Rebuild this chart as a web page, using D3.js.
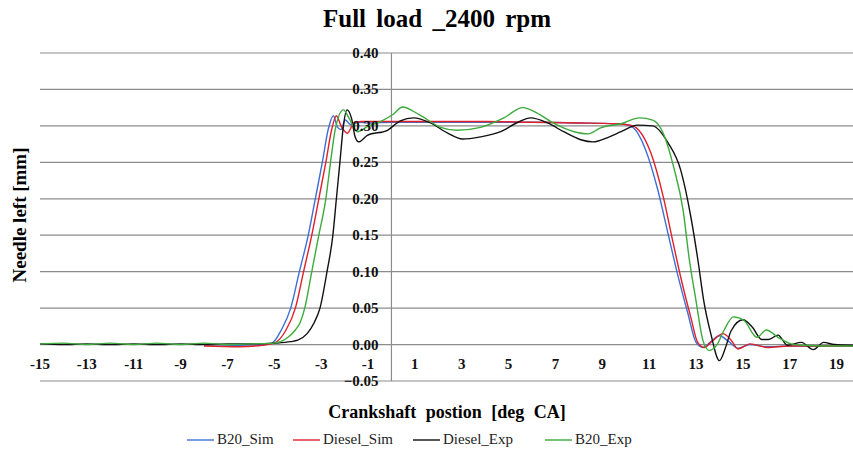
<!DOCTYPE html>
<html>
<head>
<meta charset="utf-8">
<script src="https://cdn.jsdelivr.net/npm/d3@7"></script>
<style>
  body { margin: 0; background: #fff; }
  svg, text { font-family: "Liberation Serif", "Times New Roman", "DejaVu Serif", serif; }
  .grid line { stroke: #8c8c8c; stroke-width: 1.2; }
  .tick-lbl { font-weight: bold; font-size: 15px; fill: #111; }
</style>
</head>
<body>
<svg id="chart" width="853" height="455" font-family="Liberation Serif, serif"></svg>
<script>
// crank angle [deg CA], needle lift [mm]
var b20Sim = [[-8,0],[-6.5,-0.001],[-5.5,0],[-5.1,0.002],[-4.7,0.02],[-4.3,0.05],[-3.93,0.10],[-3.55,0.15],[-3.25,0.20],[-2.95,0.25],[-2.7,0.295],[-2.48,0.314],[-2.3,0.298],[-2.15,0.295],[-1.97,0.308],[-1.75,0.302],[-1.4,0.305],[-1,0.304],[0,0.305],[2,0.305],[4,0.305],[6,0.305],[8,0.304],[9.5,0.303],[10.0,0.302],[10.34,0.297],[10.85,0.267],[11.37,0.212],[11.8,0.153],[12.2,0.098],[12.65,0.043],[13.0,0.003],[13.3,-0.004],[13.6,0.003],[14.0,0.012],[14.4,0.004],[14.8,-0.005],[15.3,0.0],[16.0,-0.003],[17,-0.002],[18,-0.002],[19.7,-0.002]];

var dieselSim = [[-8,-0.002],[-6.5,-0.003],[-5.5,-0.001],[-5.0,0.002],[-4.5,0.02],[-4.1,0.05],[-3.75,0.10],[-3.4,0.15],[-3.1,0.20],[-2.8,0.25],[-2.55,0.295],[-2.35,0.314],[-2.15,0.3],[-1.88,0.29],[-1.6,0.304],[-1.3,0.306],[-1,0.306],[0,0.306],[2,0.306],[4,0.306],[6,0.305],[8,0.304],[9.5,0.303],[10.2,0.301],[10.56,0.294],[11.07,0.263],[11.6,0.203],[12.0,0.143],[12.35,0.092],[12.78,0.037],[13.07,0.003],[13.35,-0.004],[13.7,0.005],[14.15,0.015],[14.5,0.006],[14.8,-0.006],[15.3,0.001],[16.05,-0.004],[17,-0.002],[18,-0.002],[19.7,-0.002]];

var dieselExp = [[-15,0.001],[-14,0],[-13,0.001],[-12,0],[-11,0.001],[-10,0],[-9,0.001],[-8,0],[-7,0.001],[-6,0.001],[-5,0.002],[-4.3,0.004],[-4.0,0.006],[-3.6,0.015],[-3.3,0.03],[-3.05,0.05],[-2.75,0.10],[-2.5,0.15],[-2.35,0.20],[-2.2,0.25],[-2.05,0.30],[-1.9,0.322],[-1.7,0.31],[-1.55,0.285],[-1.4,0.278],[-1.03,0.287],[-0.17,0.294],[0.38,0.307],[0.94,0.311],[1.67,0.304],[2.4,0.29],[3.03,0.282],[3.8,0.285],[4.66,0.292],[5.4,0.305],[5.94,0.311],[6.67,0.304],[7.35,0.292],[8.08,0.281],[8.6,0.278],[9.3,0.285],[9.8,0.292],[10.5,0.301],[11.15,0.30],[11.8,0.277],[12.35,0.239],[12.78,0.175],[13.08,0.116],[13.33,0.06],[13.63,0.015],[14.0,-0.022],[14.25,-0.005],[14.5,0.019],[15.0,0.034],[15.4,0.024],[15.8,0.007],[16.1,0.007],[16.5,0.013],[16.9,-0.001],[17.5,0.003],[18.0,-0.007],[18.45,0.003],[18.9,0],[19.7,-0.001]];

var b20Exp = [[-15,0.001],[-14,0.002],[-13,0.0],[-12,0.002],[-11,0.0],[-10,0.002],[-9,0.0],[-8,0.002],[-7,0.0],[-6,0.001],[-5,0.002],[-4.5,0.008],[-4.1,0.02],[-3.9,0.03],[-3.7,0.05],[-3.4,0.10],[-3.1,0.15],[-2.8,0.20],[-2.6,0.25],[-2.4,0.295],[-2.05,0.322],[-1.8,0.31],[-1.45,0.292],[-1.03,0.299],[-0.47,0.306],[0.08,0.316],[0.47,0.326],[1.2,0.315],[2.1,0.298],[2.8,0.294],[3.8,0.298],[4.8,0.311],[5.6,0.325],[6.2,0.318],[6.9,0.304],[7.8,0.292],[8.4,0.289],[8.9,0.297],[9.8,0.303],[10.6,0.311],[11.15,0.308],[11.6,0.29],[12.05,0.243],[12.45,0.184],[12.7,0.12],[13.0,0.06],[13.3,0.005],[13.55,-0.008],[13.9,0.0],[14.2,0.02],[14.6,0.038],[15.05,0.033],[15.6,0.01],[16.0,0.02],[16.5,0.01],[17.05,0.001],[17.6,-0.001],[18.5,-0.002],[19.7,-0.002]];

var seriesNames = ["B20_Sim", "Diesel_Sim", "Diesel_Exp", "B20_Exp"];
var seriesColors = ["#3d6fd4", "#e0202a", "#111111", "#3caa3c"];
var xTicks = [-15,-13,-11,-9,-7,-5,-3,-1,1,3,5,7,9,11,13,15,17,19];
var yTicks = [-0.05,0,0.05,0.10,0.15,0.20,0.25,0.30,0.35,0.40];

var svg = d3.select("#chart");

var x = d3.scaleLinear().domain([-15, 19.7]).range([40, 853]);
var y = d3.scaleLinear().domain([-0.05, 0.40]).range([381, 53]);

// horizontal grid
svg.append("g").attr("class", "grid")
    .selectAll("line").data(yTicks).enter().append("line")
    .attr("x1", x(-15)).attr("x2", x(19.7))
    .attr("y1", function(d){ return y(d); })
    .attr("y2", function(d){ return y(d); });

// vertical axis at 0
svg.append("line")
    .attr("x1", x(0)).attr("x2", x(0))
    .attr("y1", y(0.40)).attr("y2", y(-0.05))
    .attr("stroke", "#8c8c8c").attr("stroke-width", 1.2);

var line = d3.line()
    .x(function(d){ return x(d[0]); })
    .y(function(d){ return y(d[1]); })
    .curve(d3.curveMonotoneX);

var allSeries = [b20Sim, dieselSim, dieselExp, b20Exp];
svg.append("g").selectAll("path").data(allSeries).enter().append("path")
    .attr("d", line)
    .attr("fill", "none")
    .attr("stroke", function(d, i){ return seriesColors[i]; })
    .attr("stroke-width", 1.4);

// y tick labels, next to the axis
svg.append("g").selectAll("text").data(yTicks).enter().append("text")
    .attr("class", "tick-lbl")
    .attr("x", x(0) - 13)
    .attr("y", function(d){ return y(d) + 5; })
    .attr("text-anchor", "end")
    .text(function(d){ return d3.format(".2f")(d); });

// x tick labels, under the zero line
svg.append("g").selectAll("text").data(xTicks).enter().append("text")
    .attr("class", "tick-lbl")
    .attr("x", function(d){ return x(d); })
    .attr("y", y(0) + 24)
    .attr("text-anchor", "middle")
    .text(function(d){ return d; });

svg.append("text")
    .attr("x", 437).attr("y", 27)
    .attr("text-anchor", "middle")
    .style("font-weight", "bold").style("font-size", "25px")
    .style("word-spacing", "4px")
    .text("Full load _2400 rpm");

svg.append("text")
    .attr("transform", "translate(26,215) rotate(-90)")
    .attr("text-anchor", "middle")
    .style("font-weight", "bold").style("font-size", "19px")
    .text("Needle left [mm]");

svg.append("text")
    .attr("x", 447).attr("y", 418)
    .attr("text-anchor", "middle")
    .style("font-weight", "bold").style("font-size", "18px")
    .style("word-spacing", "5px")
    .text("Crankshaft postion [deg CA]");

// legend
var legendX = [187, 293, 413, 545];
var legend = svg.append("g").selectAll("g").data(seriesNames).enter().append("g")
    .attr("transform", function(d, i){ return "translate(" + legendX[i] + ",444)"; });
legend.append("line")
    .attr("x1", 0).attr("x2", 27).attr("y1", -4).attr("y2", -4)
    .attr("stroke", function(d, i){ return seriesColors[i]; })
    .attr("stroke-width", 1.4);
legend.append("text")
    .attr("x", 30).attr("y", 0)
    .style("font-size", "15px").style("fill", "#222")
    .text(function(d){ return d; });
</script>
</body>
</html>
